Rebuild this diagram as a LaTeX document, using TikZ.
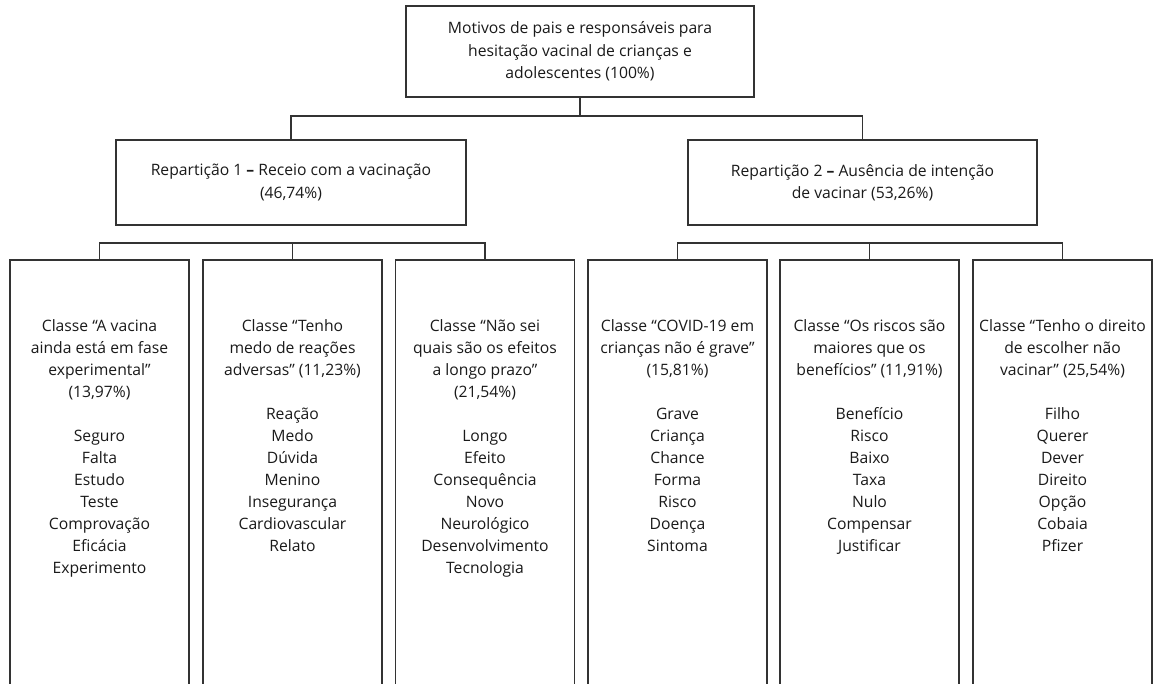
\documentclass[tikz,border=0pt]{standalone}
\usepackage{fontspec}
\setmainfont{Open Sans}
\definecolor{linegray}{HTML}{333333}
\definecolor{textgray}{HTML}{1A1A1A}
\tikzset{
  box/.style={draw=linegray, line width=1.2pt, rectangle, inner sep=0pt, align=center,
    text=textgray, font=\fontsize{15.7}{22.3}\selectfont},
  classbox/.style={draw=linegray, line width=1.2pt, rectangle, inner sep=0pt,
    minimum width=179pt, minimum height=440pt},
  classtext/.style={inner sep=0pt, align=center, anchor=north, text=textgray,
    font=\fontsize{15.7}{22}\selectfont},
  conn/.style={draw=linegray, line width=1.2pt}
}
\begin{document}
\begin{tikzpicture}[x=1pt, y=-1pt]
\useasboundingbox (0,0) rectangle (1158,683);
\fill[white] (0,0) rectangle (1158,683);

\node[box, minimum width=348pt, minimum height=91pt] (top) at (580,51.5)
  {Motivos de pais e responsáveis para\\hesitação vacinal de crianças e\\adolescentes (100\%)};
\node[box, minimum width=350pt, minimum height=85pt] (r1) at (291,182.5)
  {Repartição 1 \textbf{–} Receio com a vacinação\\(46,74\%)};
\node[box, minimum width=349pt, minimum height=85pt] (r2) at (862.5,182.5)
  {Repartição 2 \textbf{–} Ausência de intenção\\de vacinar (53,26\%)};

\node[classbox] (c1) at (99.5,480) {};
\node[classbox] (c2) at (292.5,480) {};
\node[classbox] (c3) at (485,480) {};
\node[classbox] (c4) at (677.5,480) {};
\node[classbox] (c5) at (869.5,480) {};
\node[classbox] (c6) at (1062.5,480) {};

\node[classtext] (t1) at (99.5,319)
  {Classe “A vacina\\ainda está em fase\\experimental”\\(13,97\%)\\[22pt]Seguro\\Falta\\Estudo\\Teste\\Comprovação\\Eficácia\\Experimento};
\node[classtext] (t2) at (292.5,319)
  {Classe “Tenho\\medo de reações\\adversas” (11,23\%)\\[22pt]Reação\\Medo\\Dúvida\\Menino\\Insegurança\\Cardiovascular\\Relato};
\node[classtext] (t3) at (485,319)
  {Classe “Não sei\\quais são os efeitos\\a longo prazo”\\(21,54\%)\\[22pt]Longo\\Efeito\\Consequência\\Novo\\Neurológico\\Desenvolvimento\\Tecnologia};
\node[classtext] (t4) at (677.5,319)
  {Classe “COVID-19 em\\crianças não é grave”\\(15,81\%)\\[22pt]Grave\\Criança\\Chance\\Forma\\Risco\\Doença\\Sintoma};
\node[classtext] (t5) at (869.5,319)
  {Classe “Os riscos são\\maiores que os\\benefícios” (11,91\%)\\[22pt]Benefício\\Risco\\Baixo\\Taxa\\Nulo\\Compensar\\Justificar};
\node[classtext] (t6) at (1062.5,319)
  {Classe “Tenho o direito\\de escolher não\\vacinar” (25,54\%)\\[22pt]Filho\\Querer\\Dever\\Direito\\Opção\\Cobaia\\Pfizer};

% top level connectors
\coordinate (j0) at (580,116);
\draw[conn] (top.south) -- (j0);
\draw[conn] (r1.north) |- (j0) -| (r2.north);

% left group
\coordinate (h1) at (292.5,243);
\draw[conn] (c1.north) |- (h1) -| (c3.north);
\draw[conn] (h1) -- (c2.north);

% right group
\coordinate (h2) at (869.5,243);
\draw[conn] (c4.north) |- (h2) -| (c6.north);
\draw[conn] (h2) -- (c5.north);
\end{tikzpicture}
\end{document}
